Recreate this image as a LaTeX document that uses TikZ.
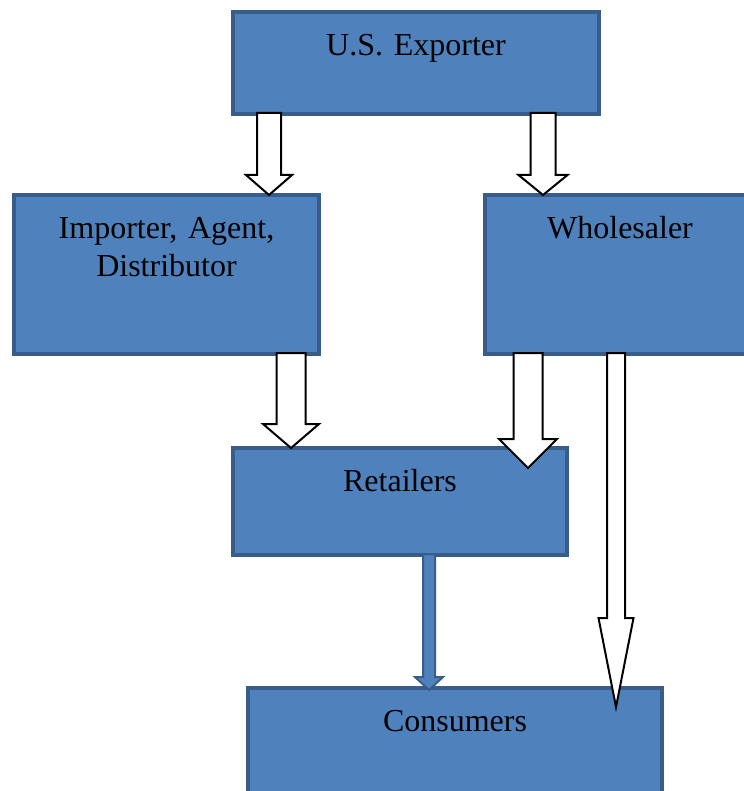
\documentclass[tikz,border=0pt]{standalone}
\usepackage{fontspec}
\setmainfont{Liberation Serif}
\usepackage{tikz}
\usetikzlibrary{calc}
\definecolor{boxfill}{HTML}{4F81BD}
\definecolor{boxedge}{HTML}{385D8A}

% #1 style, #2 from, #3 to, #4 x, #5 half shaft, #6 half head, #7 head length, #8 overshoot
\newcommand{\blockarrow}[8]{%
  \draw[#1] let \p1=(#2.south), \p2=(#3.north), \p3=(#4,0),
    \p4=(#5,0), \p5=(#6,0), \p6=(#7,0), \p7=(#8,0) in
    (\x3-\x4,\y1+0.5pt) -- (\x3-\x4,\y2-\x7+\x6) -- (\x3-\x5,\y2-\x7+\x6)
    -- (\x3,\y2-\x7) -- (\x3+\x5,\y2-\x7+\x6) -- (\x3+\x4,\y2-\x7+\x6)
    -- (\x3+\x4,\y1+0.5pt) -- cycle;}

\begin{document}
\begin{tikzpicture}[x=0.5pt, y=-0.5pt,
  every node/.style = {font=\fontsize{16}{19}\selectfont},
  box/.style = {draw=boxedge, fill=boxfill, line width=2pt, anchor=north west,
    inner sep=0pt, outer sep=0pt, align=center, text height=21.75pt},
  flow/.style = {draw=black, fill=white, line width=1pt, line join=miter},
  flowblue/.style = {draw=boxedge, fill=boxfill, line width=1pt, line join=miter}]
  \useasboundingbox (0,0) rectangle (743,791);
  % boxes
  \node[box, text width=183pt, text depth=29.25pt] (exporter) at (233,12) {U.S. Exporter};
  \node[box, text width=152.5pt, text depth=57.75pt] (importer) at (14,195) {Importer, Agent,\\ Distributor};
  \node[box, text width=135pt, text depth=57.75pt] (wholesaler) at (485,195) {Wholesaler};
  \node[box, text width=167pt, text depth=31.75pt] (retailers) at (233,448) {Retailers};
  \node[box, text width=207pt, text depth=38.25pt] (consumers) at (248,688) {Consumers};
  % arrows
  \blockarrow{flow}{exporter}{importer}{269}{12}{23}{20}{0}
  \blockarrow{flow}{exporter}{wholesaler}{543}{12.5}{24.5}{20}{0}
  \blockarrow{flow}{importer}{retailers}{291}{14.5}{28}{24}{0}
  \blockarrow{flow}{wholesaler}{retailers}{528}{14.5}{29}{29}{20}
  \blockarrow{flow}{wholesaler}{consumers}{616}{9}{17.5}{89}{19}
  \blockarrow{flowblue}{retailers}{consumers}{429}{6}{14}{13}{2}
\end{tikzpicture}
\end{document}
